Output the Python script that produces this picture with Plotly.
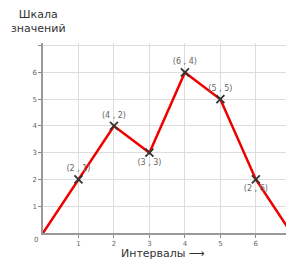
import plotly.graph_objects as go

x_vals = [0, 1, 2, 3, 4, 5, 6, 7]
y_vals = [0, 2, 4, 3, 6, 5, 2, 0]
mark_x = [1, 2, 3, 4, 5, 6]
mark_y = [2, 4, 3, 6, 5, 2]
mark_labels = ["(2 , 1)", "(4 , 2)", "(3 , 3)", "(6 , 4)", "(5 , 5)", "(2 , 6)"]
label_pos = ["top center", "top center", "bottom center", "top center", "top center", "bottom center"]
x_ticks = [1, 2, 3, 4, 5, 6]
y_ticks = [1, 2, 3, 4, 5, 6, 7]
y_ticktext = ["1", "2", "3", "4", "5", "6", ""]

fig = go.Figure()
fig.add_trace(go.Scatter(x=x_vals, y=y_vals, mode="lines",
                         line=dict(color="#ee0000", width=2.5), hoverinfo="skip"))
fig.add_trace(go.Scatter(x=mark_x, y=mark_y, mode="markers+text",
                         marker=dict(symbol="x-thin", size=8, line=dict(color="#333333", width=1.8)),
                         text=mark_labels, textposition=label_pos, cliponaxis=False,
                         textfont=dict(family="DejaVu Sans", size=8, color="#666666")))

L, R, T, B = 43, 0, 43, 27
PW, PH = 286 - L - R, 260 - T - B

fig.update_layout(
    width=286, height=260,
    margin=dict(l=L, r=R, t=T, b=B, autoexpand=False),
    paper_bgcolor="white", plot_bgcolor="white",
    showlegend=False,
    xaxis=dict(range=[0, 6.85], tickvals=x_ticks, showgrid=True, gridcolor="#dddddd", gridwidth=1,
               showline=True, linecolor="#999999", linewidth=1.5, ticks="outside", ticklen=3,
               tickcolor="#888888", tickfont=dict(family="DejaVu Sans", size=7, color="#666666"),
               zeroline=False, automargin=False),
    yaxis=dict(range=[0, 7.1], tickvals=y_ticks, ticktext=y_ticktext, showgrid=True,
               gridcolor="#dddddd", gridwidth=1, showline=True, linecolor="#999999", linewidth=1.5,
               ticks="outside", ticklen=3, tickcolor="#888888",
               tickfont=dict(family="DejaVu Sans", size=7, color="#666666"), zeroline=False,
               automargin=False),
    annotations=[
        dict(text="Шкала<br>значений", x=(38 - L) / PW, y=(260 - 21 - B) / PH,
             xref="paper", yref="paper", xanchor="center", yanchor="middle", showarrow=False,
             font=dict(family="DejaVu Sans", size=11, color="#333333")),
        dict(text="0", x=0, y=0, xref="x", yref="y", xanchor="right", yanchor="top",
             xshift=-3, yshift=-1, showarrow=False,
             font=dict(family="DejaVu Sans", size=7, color="#666666")),
        dict(text="Интервалы ⟶", x=(163 - L) / PW, y=(260 - 254 - B) / PH,
             xref="paper", yref="paper", xanchor="center", yanchor="middle", showarrow=False,
             font=dict(family="DejaVu Sans", size=11, color="#333333")),
    ],
)

fig.write_html("out.html", config={"displayModeBar": False},
               post_script="document.body.style.margin='0px';document.body.style.overflow='hidden';")
